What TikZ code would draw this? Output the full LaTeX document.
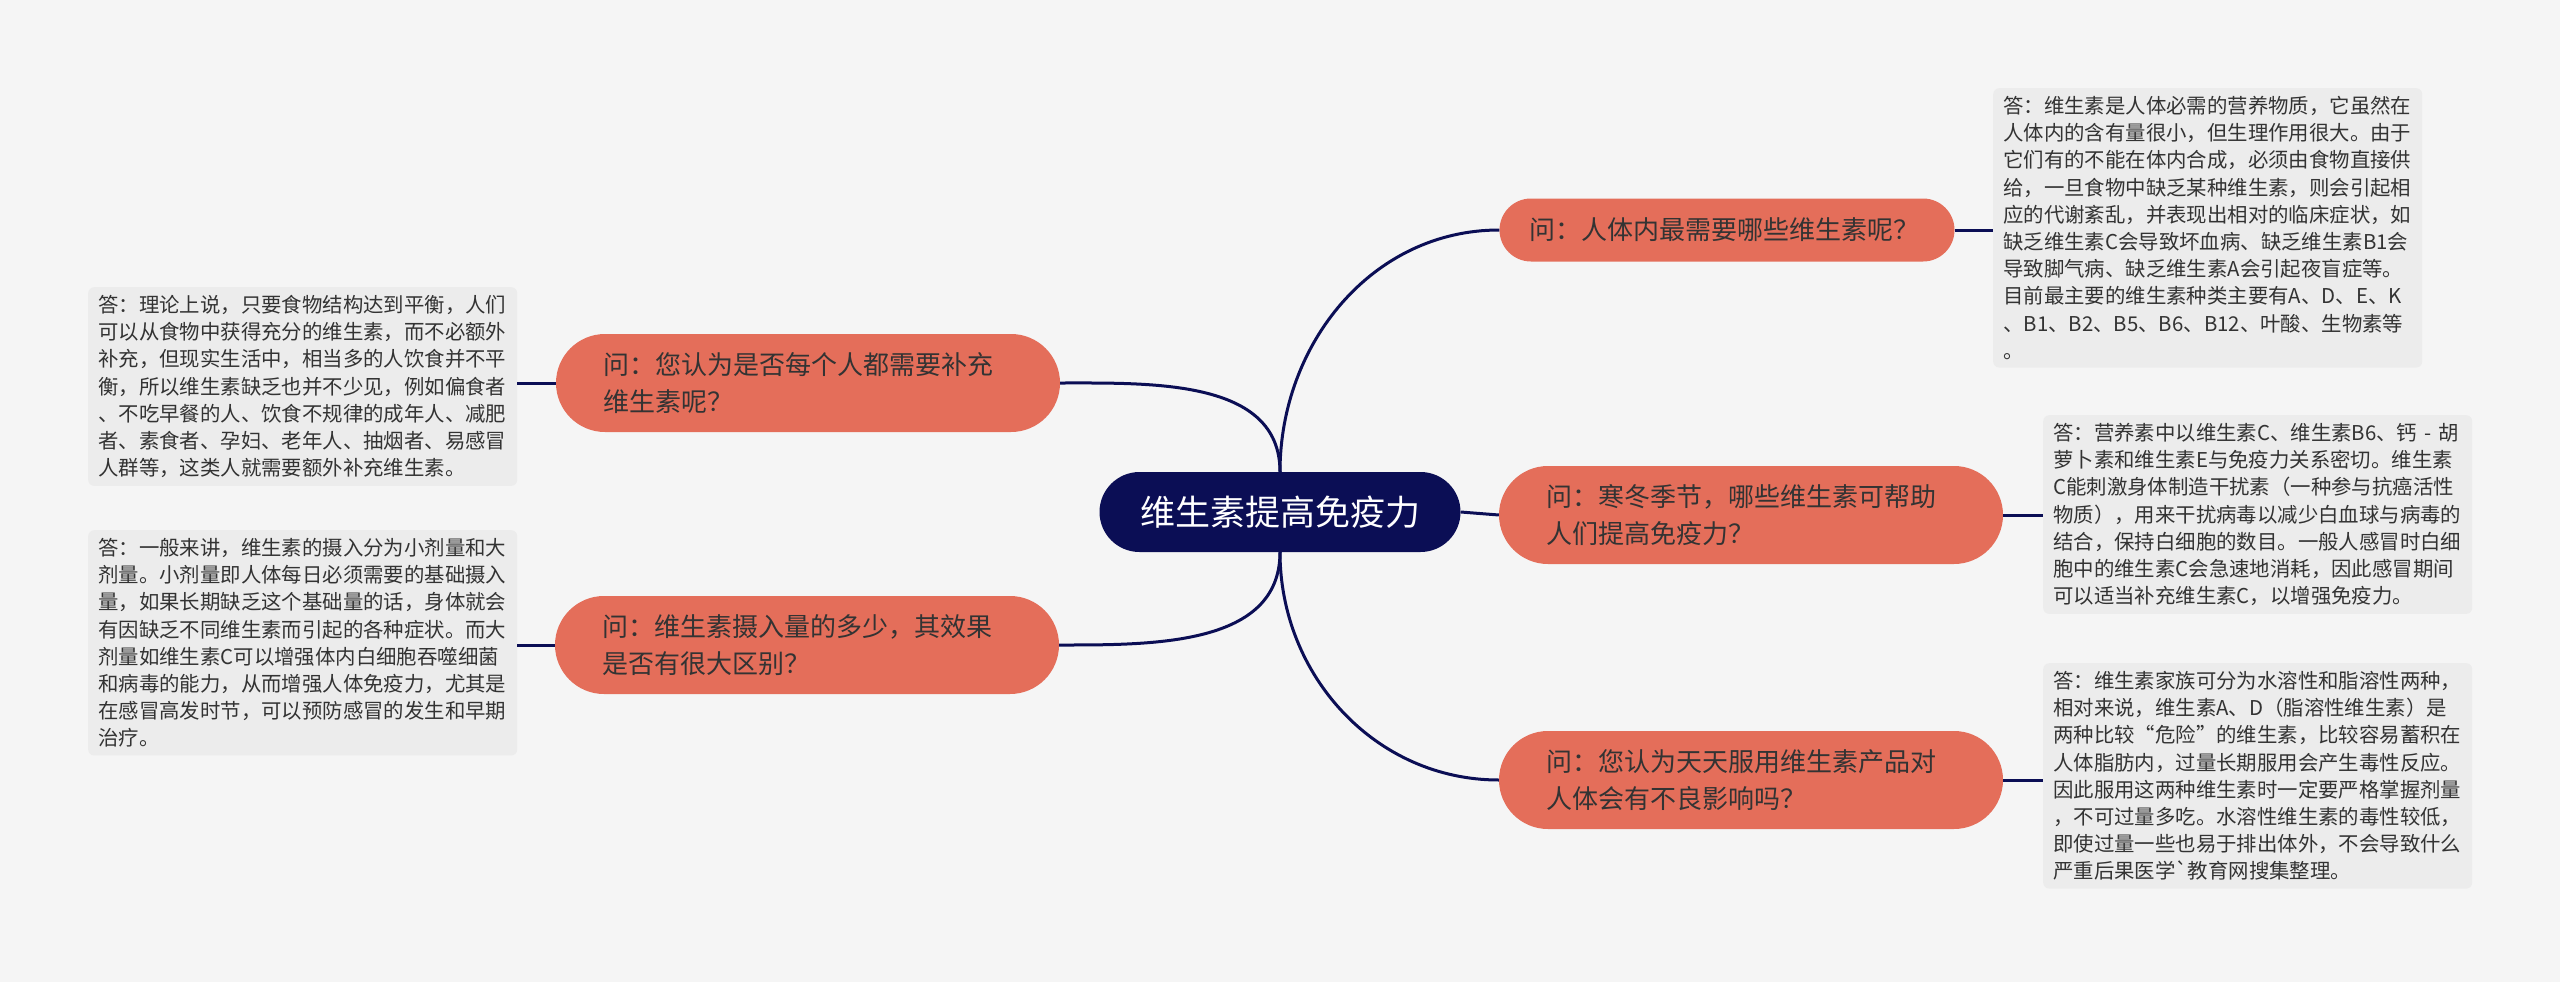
\documentclass[tikz,border=0pt]{standalone}
\usepackage{fontspec}
\newfontfamily\cjk{Noto Sans CJK SC}
\definecolor{navy}{HTML}{0B0E55}
\definecolor{salmon}{HTML}{E46E5A}
\definecolor{bggray}{HTML}{F5F5F5}
\definecolor{boxgray}{HTML}{ECECEC}
\definecolor{inkgray}{HTML}{333333}

\begin{document}
\begin{tikzpicture}[x=1pt, y=1pt,
    root/.style={fill=navy, text=white, rounded corners=40pt, minimum width=361pt, minimum height=80pt, inner sep=0pt, font=\cjk\fontsize{35}{40}\selectfont}, % central topic
    ques/.style={fill=salmon, text=inkgray, rounded corners=49pt, text width=410pt, inner xsep=47pt, inner ysep=0pt, minimum height=98pt, align=left, font=\cjk\fontsize{26}{37}\selectfont}, % question bubbles
    answ/.style={fill=boxgray, text=inkgray, rounded corners=6pt, text width=409pt, inner xsep=10pt, inner ysep=8pt, align=left, anchor=north west, font=\cjk\fontsize{20.4}{27.2}\selectfont}, % answer boxes
    link/.style={draw=navy, line width=3pt} % connectors
]
% canvas, same size as the reference
\fill[bggray] (0,0) rectangle (2560,-982);
\useasboundingbox (0,0) rectangle (2560,-982);

% centre
\node[root] (root) at (1280,-512) {维生素提高免疫力};

% questions
\node[ques, text width=395pt, inner xsep=30pt, minimum height=63pt, rounded corners=31.5pt] (q1) at (1727,-230) {问：人体内最需要哪些维生素呢？};
\node[ques] (q2) at (808,-383) {问：您认为是否每个人都需要补充\\维生素呢？};
\node[ques] (q3) at (807,-645) {问：维生素摄入量的多少，其效果\\是否有很大区别？};
\node[ques] (q4) at (1751,-515) {问：寒冬季节，哪些维生素可帮助\\人们提高免疫力？};
\node[ques] (q5) at (1751,-780) {问：您认为天天服用维生素产品对\\人体会有不良影响吗？};

% answers
\node[answ] (a1) at (1993,-88) {答：维生素是人体必需的营养物质，它虽然在\\
人体内的含有量很小，但生理作用很大。由于\\
它们有的不能在体内合成，必须由食物直接供\\
给，一旦食物中缺乏某种维生素，则会引起相\\
应的代谢紊乱，并表现出相对的临床症状，如\\
缺乏维生素C会导致坏血病、缺乏维生素B1会\\
导致脚气病、缺乏维生素A会引起夜盲症等。\\
目前最主要的维生素种类主要有A、D、E、K\\
、B1、B2、B5、B6、B12、叶酸、生物素等\\
。};
\node[answ] (a2) at (2043,-415) {答：营养素中以维生素C、维生素B6、钙 - 胡\\
萝卜素和维生素E与免疫力关系密切。维生素\\
C能刺激身体制造干扰素（一种参与抗癌活性\\
物质），用来干扰病毒以减少白血球与病毒的\\
结合，保持白细胞的数目。一般人感冒时白细\\
胞中的维生素C会急速地消耗，因此感冒期间\\
可以适当补充维生素C，以增强免疫力。};
\node[answ] (a3) at (2043,-663) {答：维生素家族可分为水溶性和脂溶性两种，\\
相对来说，维生素A、D（脂溶性维生素）是\\
两种比较“危险”的维生素，比较容易蓄积在\\
人体脂肪内，过量长期服用会产生毒性反应。\\
因此服用这两种维生素时一定要严格掌握剂量\\
，不可过量多吃。水溶性维生素的毒性较低，\\
即使过量一些也易于排出体外，不会导致什么\\
严重后果医学`教育网搜集整理。};
\node[answ] (a4) at (88,-287) {答：理论上说，只要食物结构达到平衡，人们\\
可以从食物中获得充分的维生素，而不必额外\\
补充，但现实生活中，相当多的人饮食并不平\\
衡，所以维生素缺乏也并不少见，例如偏食者\\
、不吃早餐的人、饮食不规律的成年人、减肥\\
者、素食者、孕妇、老年人、抽烟者、易感冒\\
人群等，这类人就需要额外补充维生素。};
\node[answ] (a5) at (88,-530) {答：一般来讲，维生素的摄入分为小剂量和大\\
剂量。小剂量即人体每日必须需要的基础摄入\\
量，如果长期缺乏这个基础量的话，身体就会\\
有因缺乏不同维生素而引起的各种症状。而大\\
剂量如维生素C可以增强体内白细胞吞噬细菌\\
和病毒的能力，从而增强人体免疫力，尤其是\\
在感冒高发时节，可以预防感冒的发生和早期\\
治疗。};

% centre to questions
\draw[link] (root.north) to[out=90, in=180] (q1.west);
\draw[link] (root.north) to[out=90, in=0] (q2.east);
\draw[link] (root.south) to[out=-90, in=0] (q3.east);
\draw[link] (root.east) -- (q4.west);
\draw[link] (root.south) to[out=-90, in=180] (q5.west);

% questions to answers
\draw[link] (q1.east) -- (q1.east -| a1.west);
\draw[link] (q4.east) -- (q4.east -| a2.west);
\draw[link] (q5.east) -- (q5.east -| a3.west);
\draw[link] (q2.west) -- (q2.west -| a4.east);
\draw[link] (q3.west) -- (q3.west -| a5.east);

\end{tikzpicture}
\end{document}
